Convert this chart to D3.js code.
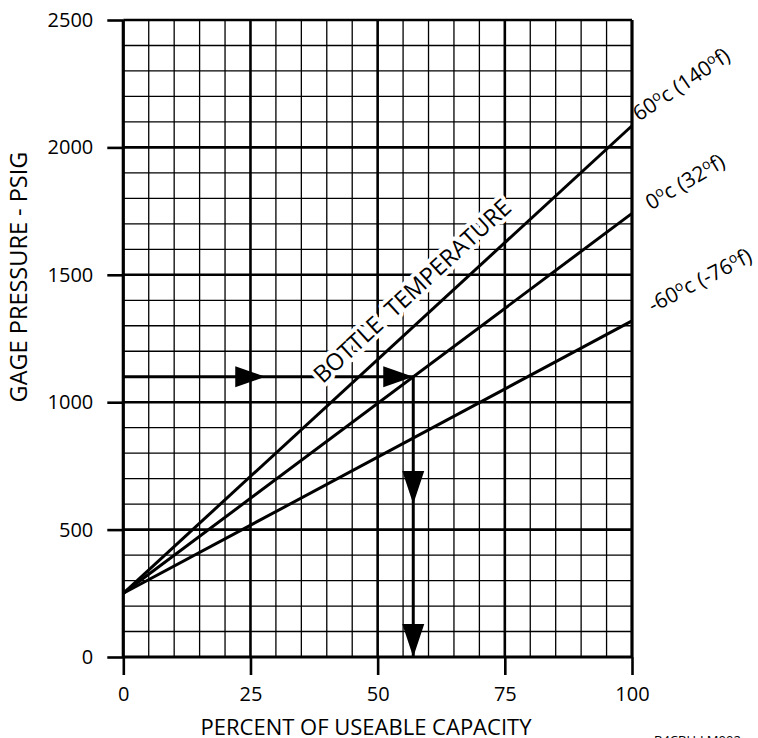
<!DOCTYPE html>
<html><head><meta charset="utf-8">
<script src="https://cdn.jsdelivr.net/npm/d3@7"></script>
<style>body{margin:0;background:#fff}svg{display:block;font-family:"Open Sans",sans-serif}</style>
</head><body>
<svg id="c" width="758" height="738"></svg>
<script>
// ---- data ----
const xTicks = [0, 25, 50, 75, 100];
const yTicks = [0, 500, 1000, 1500, 2000, 2500];
const capacity = [0, 100];               // percent of useable capacity
const temp60 = [250, 2085];              // 60°c (140°f)
const temp0 = [250, 1741];               // 0°c (32°f)
const tempM60 = [250, 1319];             // -60°c (-76°f)
const seriesLabels = ["60°c (140°f)", "0°c (32°f)", "-60°c (-76°f)"];
const readPressure = 1100;               // example reading
const readCapacity = 57;                 // result on 0°c line
const arrowRightAt = [27.9, 57];         // arrow tips along pressure line
const arrowDownAt = [600, 0];            // arrow tips along capacity line
const xTitle = "PERCENT OF USEABLE CAPACITY";
const yTitle = "GAGE PRESSURE - PSIG";
const curveTitle = "BOTTLE  TEMPERATURE";
const figId = "B4CBU-LM002";

// ---- scales ----
const svg = d3.select("#c");
const x = d3.scaleLinear().domain([0, 100]).range([123.3, 632]);
const y = d3.scaleLinear().domain([0, 2500]).range([657, 20]);

// ---- grid ----
const grid = svg.append("g");
d3.range(0, 101, 5).forEach(v => {
  const major = v % 25 === 0;
  grid.append("line").attr("x1", x(v)).attr("x2", x(v)).attr("y1", y(0)).attr("y2", y(2500))
    .attr("stroke", "#000").attr("stroke-width", major ? (v === 0 || v === 100 ? 3.2 : 2.6) : 1.3);
});
d3.range(0, 2501, 100).forEach(v => {
  const major = v % 500 === 0;
  grid.append("line").attr("x1", x(0)).attr("x2", x(100)).attr("y1", y(v)).attr("y2", y(v))
    .attr("stroke", "#000").attr("stroke-width", major ? (v === 0 ? 3.2 : 2.6) : 1.3);
});

// ---- axes ----
const fmt = d3.format("d");
const ax = svg.append("g").attr("transform", `translate(0,${y(0)})`)
  .call(d3.axisBottom(x).tickValues(xTicks).tickFormat(fmt).tickSize(18).tickPadding(12).tickSizeOuter(0));
const ay = svg.append("g").attr("transform", `translate(${x(0)},0)`)
  .call(d3.axisLeft(y).tickValues(yTicks).tickFormat(fmt).tickSize(16).tickPadding(14).tickSizeOuter(0));
[ax, ay].forEach(g => {
  g.select(".domain").remove();
  g.selectAll(".tick line").attr("stroke", "#000").attr("stroke-width", 2.6);
  g.selectAll(".tick text").attr("font-family", "Open Sans").attr("font-size", 20).attr("fill", "#000");
});

// ---- reading arrows (lines) ----
const lineGen = d3.line().x(d => x(d[0])).y(d => y(d[1]));
svg.append("path").attr("d", lineGen([[0, readPressure], [readCapacity, readPressure]]))
  .attr("stroke", "#000").attr("stroke-width", 3).attr("fill", "none");
svg.append("path").attr("d", lineGen([[readCapacity, readPressure], [readCapacity, 0]]))
  .attr("stroke", "#000").attr("stroke-width", 3).attr("fill", "none");

// ---- curve title with halo ----
const ang = Math.atan2(y(temp60[1]) - y(temp60[0]), x(capacity[1]) - x(capacity[0])) * 180 / Math.PI;
const tPos = 60.4;
const tVal = temp60[0] + (temp60[1] - temp60[0]) * tPos / 100;
svg.append("text")
  .attr("transform", `translate(${x(tPos)},${y(tVal)}) rotate(${ang}) translate(0,-19)`)
  .attr("text-anchor", "middle").attr("font-size", 23.5).attr("font-family", "Open Sans")
  .style("white-space", "pre")
  .attr("stroke", "#fff").attr("stroke-width", 8).attr("paint-order", "stroke")
  .attr("stroke-linejoin", "round").attr("fill", "#000")
  .text(curveTitle);

// ---- temperature lines ----
const series = [temp60, temp0, tempM60];
series.forEach(s => {
  svg.append("path").attr("d", lineGen(capacity.map((c, i) => [c, s[i]])))
    .attr("stroke", "#000").attr("stroke-width", 3).attr("fill", "none");
});

// ---- arrowheads ----
arrowRightAt.forEach(v => {
  const tx = x(v), ty = y(readPressure);
  svg.append("path").attr("d", `M${tx},${ty} L${tx - 30},${ty - 10.5} L${tx - 30},${ty + 10.5} Z`).attr("fill", "#000");
});
arrowDownAt.forEach(v => {
  const tx = x(readCapacity), ty = y(v);
  svg.append("path").attr("d", `M${tx},${ty} L${tx - 11},${ty - 33} L${tx + 11},${ty - 33} Z`).attr("fill", "#000");
});

// ---- series labels ----
const labelOffsets = [[7, -4], [19, -3], [21, -8]];
const labelAngles = [-34, -30.5, -27.5];
series.forEach((s, i) => {
  const px = x(100) + labelOffsets[i][0], py = y(s[1]) + labelOffsets[i][1];
  const t = svg.append("text").attr("transform", `translate(${px},${py}) rotate(${labelAngles[i]})`)
    .attr("font-size", 21).attr("font-family", "Open Sans").attr("fill", "#000");
  const parts = seriesLabels[i].split("°");
  parts.forEach((p, j) => {
    if (j > 0) {
      t.append("tspan").attr("font-size", 14).attr("dy", -7).text("o");
      t.append("tspan").attr("dy", 7).text(p);
    } else {
      t.append("tspan").text(p);
    }
  });
});

// ---- axis titles ----
svg.append("text").attr("x", 366).attr("y", 735).attr("text-anchor", "middle")
  .attr("font-size", 22).attr("font-family", "Open Sans").text(xTitle);
svg.append("text").attr("transform", `translate(27,277) rotate(-90)`).attr("text-anchor", "middle")
  .attr("font-size", 23.5).attr("font-family", "Open Sans").text(yTitle);
svg.append("text").attr("x", 654).attr("y", 745).attr("font-size", 13)
  .attr("font-family", "Open Sans").text(figId);
</script>
</body></html>
